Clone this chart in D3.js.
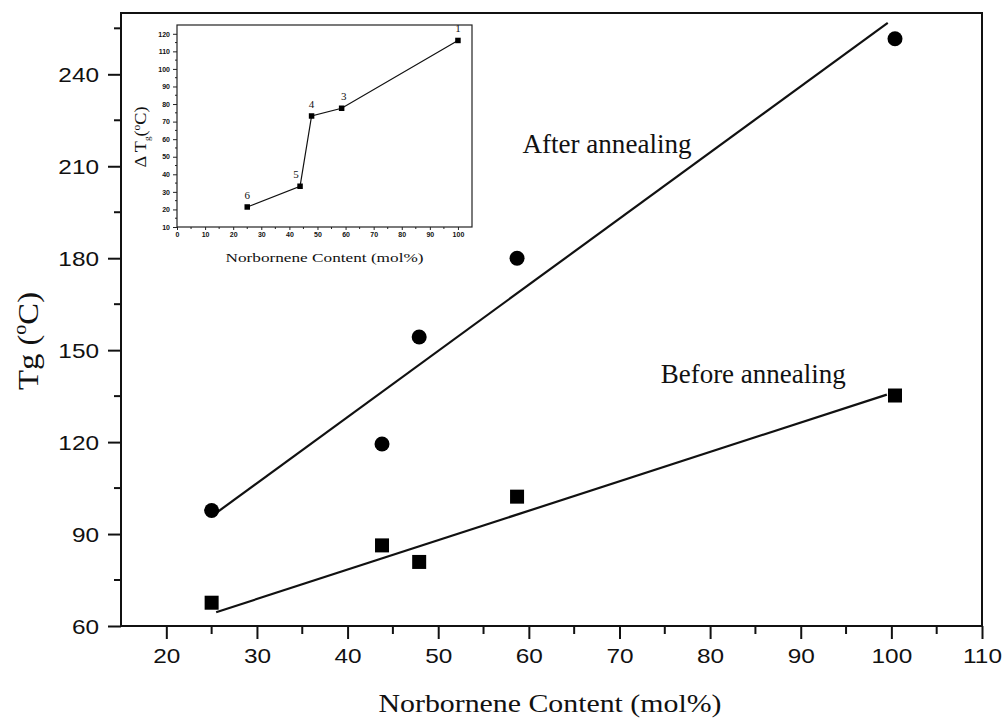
<!DOCTYPE html>
<html>
<head>
<meta charset="utf-8">
<script src="https://cdn.jsdelivr.net/npm/d3@7"></script>
<style>
    body { margin: 0; background: #fff; }
    svg { display: block; }
    .tick-main text { font-family: "Liberation Sans", Arial, sans-serif; font-size: 21px; fill: #111; }
    .tick-inset text { font-family: "Liberation Sans", Arial, sans-serif; font-size: 7px; font-weight: bold; fill: #111; }
    .serif { font-family: "Liberation Serif", "Times New Roman", serif; fill: #111; }
</style>
</head>
<body>
<div id="graphDiv"></div>
<script>
// main chart data //
var norbornene = [25, 43.8, 47.9, 58.7, 100.4];
var tgAfter = [97.7, 119.4, 154.3, 180, 251.6];
var tgBefore = [67.6, 86.3, 80.9, 102.2, 135.2];

// fitted lines, end points
var fitAfterX = [25.6, 99.6];
var fitAfterY = [97.1, 256.8];
var fitBeforeX = [25.5, 99.5];
var fitBeforeY = [64.5, 135.5];

var xTicks = [20, 30, 40, 50, 60, 70, 80, 90, 100, 110];
var yTicks = [60, 90, 120, 150, 180, 210, 240];

var annoText = ['After annealing', 'Before annealing'];
var annoX = [59.3, 74.55];
var annoY = [214.3, 139.2];

// inset data //
var insetX = [25, 43.8, 47.9, 58.6, 100];
var insetDTg = [21.4, 33.2, 73.2, 77.6, 116.2];
var insetLabels = ['6', '5', '4', '3', '1'];
var insetXTicks = [0, 10, 20, 30, 40, 50, 60, 70, 80, 90, 100];
var insetYTicks = [10, 20, 30, 40, 50, 60, 70, 80, 90, 100, 110, 120];

var W = 1002, H = 722;

var svg = d3.select('#graphDiv').append('svg')
    .attr('width', W)
    .attr('height', H);

// stretch a text horizontally (the scan is a bit wider than tall)
function stretch(sel, k) {
    sel.each(function () {
        var len = this.getComputedTextLength();
        d3.select(this).attr('textLength', len * k).attr('lengthAdjust', 'spacingAndGlyphs');
    });
}

/* ---------- main plot ---------- */
var xScale = d3.scaleLinear().domain([15, 110]).range([121, 982]);
var yScale = d3.scaleLinear().domain([60, 260]).range([626, 13]);

var xAxis = d3.axisBottom(xScale).tickValues(xTicks).tickSize(13).tickPadding(9).tickFormat(d3.format('d'));
var yAxis = d3.axisLeft(yScale).tickValues(yTicks).tickSize(13).tickPadding(9).tickFormat(d3.format('d'));

var gx = svg.append('g')
    .attr('class', 'tick-main')
    .attr('transform', 'translate(0,626)')
    .call(xAxis);
var gy = svg.append('g')
    .attr('class', 'tick-main')
    .attr('transform', 'translate(121,0)')
    .call(yAxis);
[gx, gy].forEach(function (g) {
    g.select('.domain').remove();
    g.selectAll('line').attr('stroke', '#111').attr('stroke-width', 2);
    g.selectAll('text').attr('fill', '#111');
    stretch(g.selectAll('text'), 1.16);
});
gy.selectAll('text').attr('dy', '0.36em');

// minor ticks
var xMinor = d3.range(25, 110, 10);
svg.append('g').selectAll('line').data(xMinor).enter().append('line')
    .attr('x1', xScale).attr('x2', xScale)
    .attr('y1', 626).attr('y2', 634)
    .attr('stroke', '#111').attr('stroke-width', 2);
var yMinor = d3.range(75, 260, 30);
svg.append('g').selectAll('line').data(yMinor).enter().append('line')
    .attr('y1', yScale).attr('y2', yScale)
    .attr('x1', 114).attr('x2', 121)
    .attr('stroke', '#111').attr('stroke-width', 2);

// frame
svg.append('rect')
    .attr('x', xScale(15)).attr('y', yScale(260))
    .attr('width', xScale(110) - xScale(15))
    .attr('height', yScale(60) - yScale(260))
    .attr('fill', 'none')
    .attr('stroke', '#111')
    .attr('stroke-width', 2);

// axis labels
var xl = svg.append('text')
    .attr('class', 'serif')
    .attr('x', 550)
    .attr('y', 712)
    .attr('text-anchor', 'middle')
    .style('font-size', '25px')
    .text('Norbornene Content (mol%)');
xl.attr('textLength', 343).attr('lengthAdjust', 'spacingAndGlyphs');

var yl = svg.append('text')
    .attr('class', 'serif')
    .attr('transform', 'translate(38,341) rotate(-90)')
    .attr('text-anchor', 'middle')
    .attr('textLength', 98)
    .attr('lengthAdjust', 'spacingAndGlyphs')
    .style('font-size', '29px');
yl.append('tspan').text('Tg (');
yl.append('tspan').attr('dy', -12).style('font-size', '18px').text('o');
yl.append('tspan').attr('dy', 12).text('C)');

// fit lines
var lineFunc = d3.line()
    .x(function (d) { return xScale(d[0]); })
    .y(function (d) { return yScale(d[1]); });

svg.append('path')
    .attr('d', lineFunc(d3.zip(fitAfterX, fitAfterY)))
    .attr('fill', 'none').attr('stroke', '#111').attr('stroke-width', 2.2);
svg.append('path')
    .attr('d', lineFunc(d3.zip(fitBeforeX, fitBeforeY)))
    .attr('fill', 'none').attr('stroke', '#111').attr('stroke-width', 2.2);

// points
svg.append('g').selectAll('circle').data(d3.zip(norbornene, tgAfter)).enter().append('circle')
    .attr('cx', function (d) { return xScale(d[0]); })
    .attr('cy', function (d) { return yScale(d[1]); })
    .attr('r', 7.5)
    .attr('fill', '#000');

var sq = 14;
svg.append('g').selectAll('rect').data(d3.zip(norbornene, tgBefore)).enter().append('rect')
    .attr('x', function (d) { return xScale(d[0]) - sq / 2; })
    .attr('y', function (d) { return yScale(d[1]) - sq / 2; })
    .attr('width', sq).attr('height', sq)
    .attr('fill', '#000');

// annotations
svg.append('g').selectAll('text').data(annoText).enter().append('text')
    .attr('class', 'serif')
    .attr('x', function (d, i) { return xScale(annoX[i]); })
    .attr('y', function (d, i) { return yScale(annoY[i]); })
    .style('font-size', '28px')
    .text(function (d) { return d; })
    .each(function (d, i) {
        d3.select(this).attr('textLength', [169, 185][i]).attr('lengthAdjust', 'spacingAndGlyphs');
    });

/* ---------- inset ---------- */
var ix = d3.scaleLinear().domain([0, 105]).range([177, 472]);
var iy = d3.scaleLinear().domain([10, 125]).range([227, 25]);

var igx = svg.append('g')
    .attr('class', 'tick-inset')
    .attr('transform', 'translate(0,227)')
    .call(d3.axisBottom(ix).tickValues(insetXTicks).tickSize(3).tickPadding(2));
var igy = svg.append('g')
    .attr('class', 'tick-inset')
    .attr('transform', 'translate(177,0)')
    .call(d3.axisLeft(iy).tickValues(insetYTicks).tickSize(4).tickPadding(3));
[igx, igy].forEach(function (g) {
    g.select('.domain').remove();
    g.selectAll('line').attr('stroke', '#222').attr('stroke-width', 1);
});

svg.append('g').selectAll('line').data(d3.range(5, 105, 10)).enter().append('line')
    .attr('x1', ix).attr('x2', ix)
    .attr('y1', 227).attr('y2', 229)
    .attr('stroke', '#222').attr('stroke-width', 1);
svg.append('g').selectAll('line').data(d3.range(15, 125, 10)).enter().append('line')
    .attr('y1', iy).attr('y2', iy)
    .attr('x1', 175).attr('x2', 177)
    .attr('stroke', '#222').attr('stroke-width', 1);

svg.append('rect')
    .attr('x', ix(0)).attr('y', iy(125))
    .attr('width', ix(105) - ix(0))
    .attr('height', iy(10) - iy(125))
    .attr('fill', 'none')
    .attr('stroke', '#222')
    .attr('stroke-width', 1.2);

var ilineFunc = d3.line()
    .x(function (d) { return ix(d[0]); })
    .y(function (d) { return iy(d[1]); });
svg.append('path')
    .attr('d', ilineFunc(d3.zip(insetX, insetDTg)))
    .attr('fill', 'none').attr('stroke', '#111').attr('stroke-width', 1.2);

var isq = 5.5;
svg.append('g').selectAll('rect').data(d3.zip(insetX, insetDTg)).enter().append('rect')
    .attr('x', function (d) { return ix(d[0]) - isq / 2; })
    .attr('y', function (d) { return iy(d[1]) - isq / 2; })
    .attr('width', isq).attr('height', isq)
    .attr('fill', '#000');

// point numbers, "5" sits left of its point
var labelDx = [0, -4, 0, 2, 0];
svg.append('g').selectAll('text').data(insetLabels).enter().append('text')
    .attr('class', 'serif')
    .attr('x', function (d, i) { return ix(insetX[i]) + labelDx[i]; })
    .attr('y', function (d, i) { return iy(insetDTg[i]) - 8; })
    .attr('text-anchor', 'middle')
    .style('font-size', '11px')
    .text(function (d) { return d; });

svg.append('text')
    .attr('class', 'serif')
    .attr('x', 324.5)
    .attr('y', 262)
    .attr('text-anchor', 'middle')
    .style('font-size', '13px')
    .attr('textLength', 198)
    .attr('lengthAdjust', 'spacingAndGlyphs')
    .text('Norbornene Content (mol%)');

var iyl = svg.append('text')
    .attr('class', 'serif')
    .attr('transform', 'translate(146,137) rotate(-90)')
    .attr('text-anchor', 'middle')
    .attr('textLength', 61)
    .attr('lengthAdjust', 'spacingAndGlyphs')
    .style('font-size', '16px');
iyl.append('tspan').text('\u0394 T');
iyl.append('tspan').attr('dy', 4).style('font-size', '8px').text('g');
iyl.append('tspan').attr('dy', -4).text('(');
iyl.append('tspan').attr('dy', -6).style('font-size', '10px').text('o');
iyl.append('tspan').attr('dy', 6).text('C)');
</script>
</body>
</html>
